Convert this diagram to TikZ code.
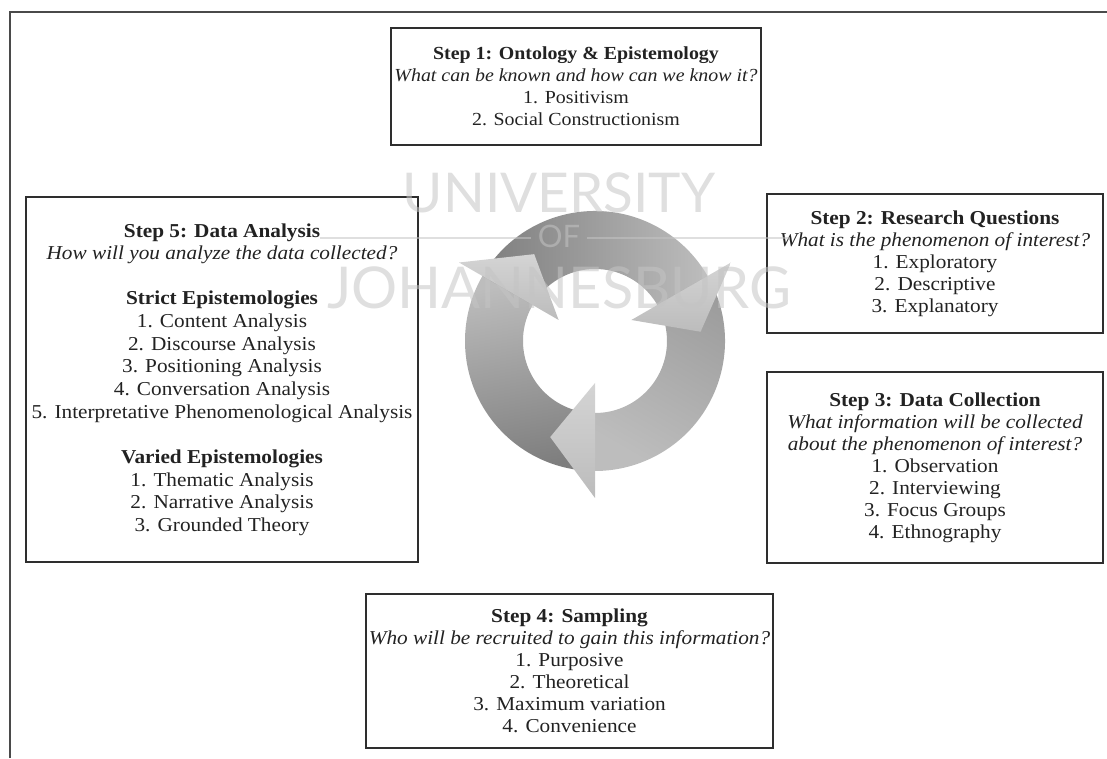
\documentclass[tikz,border=0pt]{standalone}
\usepackage{fontspec}
\setmainfont{Liberation Serif}[FakeStretch=1.08]
\newfontfamily\wmfont{Lato}
\definecolor{boxline}{HTML}{2E2E2E}
\definecolor{txt}{HTML}{222222}
\definecolor{framegray}{HTML}{4A4A4A}
\definecolor{wmgray}{HTML}{C4C4C4}
\definecolor{ringdark}{HTML}{7E7E7E}
\definecolor{ringmid}{HTML}{9C9C9C}
\definecolor{ringlight}{HTML}{BDBDBD}
\definecolor{headlight}{HTML}{D4D4D4}
\definecolor{headdark}{HTML}{BCBCBC}
\tikzset{
  stepbox/.style={draw=boxline, line width=1.4pt, align=center, inner sep=0pt,
    text=txt, font=\fontsize{14}{15.6}\selectfont},
  headshade/.style={top color=headlight, bottom color=headdark},
  watermark/.style={text=wmgray, opacity=0.55, anchor=base, inner sep=0pt,
    font=\wmfont\fontsize{39}{39}\selectfont},
  wmline/.style={draw=wmgray, opacity=0.55, line width=1.8pt},
}
\begin{document}
\begin{tikzpicture}[x=0.025cm,y=0.025cm]
\useasboundingbox (0,0) rectangle (1107,758);
% frame of the page
\draw[framegray, line width=1.2pt] (10,0) -- (10,746) -- (1107,746);

% the cycle of three arrows
\begin{scope}[shift={(595,417)}]
\def\rin{72}
\def\rout{130}
\def\arw#1#2#3{
\shade[#3] (#1:\rout) arc[start angle=#1, end angle=#2, radius=\rout]
  -- (#2:\rin) arc[start angle=#2, end angle=#1, radius=\rin] -- cycle;
}
\def\hd#1{
\shade[headshade] (#1:157) -- ({#1-25}:106) -- (#1:42) -- cycle;
}
\arw{270}{150}{top color=ringlight, bottom color=ringdark, shading angle=10}
\arw{150}{30}{left color=ringdark, right color=ringlight}
\arw{30}{-90}{top color=ringmid, bottom color=ringlight, shading angle=-30}
\hd{150}
\hd{30}
\hd{-90}
\end{scope}

% the five steps
\node[stepbox, font=\fontsize{13.1}{15.6}\selectfont,
  minimum width=9.25cm, minimum height=2.925cm] (s1) at (576,671.5)
  {\textbf{Step 1: Ontology \& Epistemology}\\
   \textit{What can be known and how can we know it?}\\
   1. Positivism\\
   2. Social Constructionism};
\node[stepbox, minimum width=8.4cm, minimum height=3.475cm] (s2) at (935,494.5)
  {\textbf{Step 2: Research Questions}\\
   \textit{What is the phenomenon of interest?}\\
   1. Exploratory\\
   2. Descriptive\\
   3. Explanatory};
\node[stepbox, minimum width=8.4cm, minimum height=4.775cm] (s3) at (935,290.5)
  {\textbf{Step 3: Data Collection}\\
   \textit{What information will be collected}\\
   \textit{about the phenomenon of interest?}\\
   1. Observation\\
   2. Interviewing\\
   3. Focus Groups\\
   4. Ethnography};
\node[stepbox, minimum width=10.175cm, minimum height=3.85cm] (s4) at (569.5,87)
  {\textbf{Step 4: Sampling}\\
   \textit{Who will be recruited to gain this information?}\\
   1. Purposive\\
   2. Theoretical\\
   3. Maximum variation\\
   4. Convenience};
\node[stepbox, font=\fontsize{14}{16.1}\selectfont,
  minimum width=9.8cm, minimum height=9.125cm] (s5) at (222,378.5)
  {\textbf{Step 5: Data Analysis}\\
   \textit{How will you analyze the data collected?}\\[16.1pt]
   \textbf{Strict Epistemologies}\\
   1. Content Analysis\\
   2. Discourse Analysis\\
   3. Positioning Analysis\\
   4. Conversation Analysis\\
   5. Interpretative Phenomenological Analysis\\[16.1pt]
   \textbf{Varied Epistemologies}\\
   1. Thematic Analysis\\
   2. Narrative Analysis\\
   3. Grounded Theory};

% watermark
\node[watermark] (wuni) at (559,545) {UNIVERSITY};
\node[watermark, font=\wmfont\fontsize{22}{22}\selectfont, inner xsep=5pt] (wof) at (559,510) {OF};
\node[watermark, font=\wmfont\fontsize{41}{41}\selectfont] (wjoh) at (559,449) {JOHANNESBURG};
\coordinate (ofl) at (320,520);
\coordinate (ofr) at (790,520);
\draw[wmline] (ofl) -- (ofl -| wof.west);
\draw[wmline] (ofl -| wof.east) -- (ofr);
\end{tikzpicture}
\end{document}
